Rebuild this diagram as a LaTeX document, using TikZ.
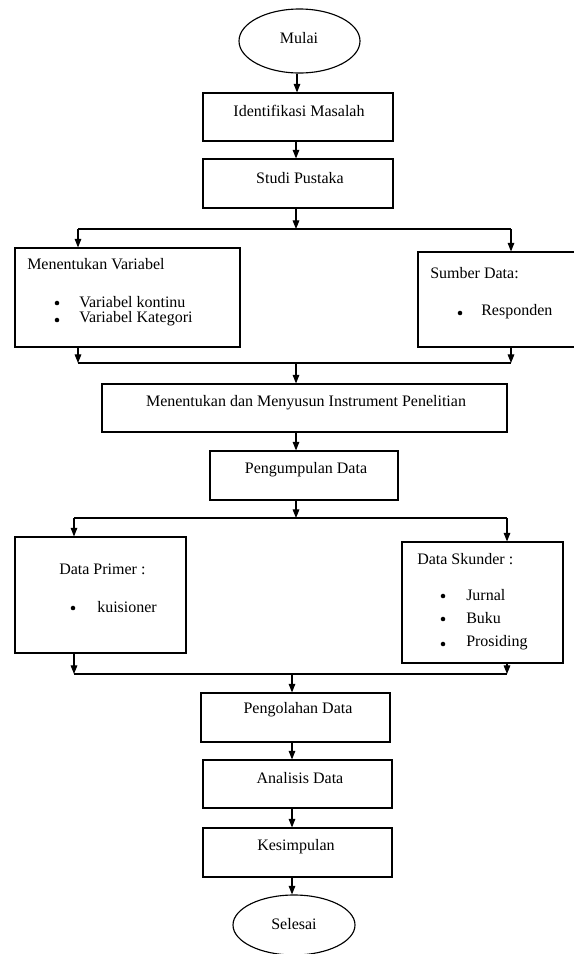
\documentclass[tikz,border=0pt]{standalone}
\usepackage{fontspec}
\setmainfont{Liberation Serif}
\usetikzlibrary{shapes.geometric,fit,arrows.meta}
\begin{document}
\begin{tikzpicture}[x=0.75pt,y=-0.75pt,
  box/.style={draw, line width=0.85pt, inner sep=0pt, rectangle},
  term/.style={draw, ellipse, line width=0.85pt, inner sep=0pt},
  txt/.style={inner sep=0pt, font=\fontsize{12}{14}\selectfont},
  bul/.style={circle, fill=black, inner sep=0pt, minimum size=3.4pt},
  arr/.style={line width=0.85pt, -{Triangle[length=6.5pt,width=5pt]}},
  ln/.style={line width=0.85pt}]
\clip (0,0) rectangle (574,954);
\fill[white] (0,0) rectangle (574,954);

% terminals
\node[term, minimum width=90.75pt, minimum height=48pt] (mulai) at (299.5,41) {};
\node[term, minimum width=91.5pt, minimum height=45pt] (selesai) at (294,925) {};
\node[txt] (tmulai) at (299,38) {Mulai};
\node[txt] (tselesai) at (294,924) {Selesai};

% boxes
\node[box, fit={(203,93) (393,141)}] (ident) {};
\node[box, fit={(203,159) (393,208)}] (studi) {};
\node[box, fit={(15,248) (240,347)}] (var) {};
\node[box, fit={(418,252) (590,347)}] (sumber) {};
\node[box, fit={(102,384) (507,432)}] (instr) {};
\node[box, fit={(210,451) (398,500)}] (kumpul) {};
\node[box, fit={(15,537) (186,653)}] (primer) {};
\node[box, fit={(402,542) (563,663)}] (skunder) {};
\node[box, fit={(201,693) (390,742)}] (olah) {};
\node[box, fit={(203,760) (392,808)}] (analisis) {};
\node[box, fit={(203,828) (392,877)}] (simpul) {};

% texts
\node[txt] (tident) at (299,111) {Identifikasi Masalah};
\node[txt] (tstudi) at (300,178) {Studi Pustaka};
\node[txt, anchor=west] (tvar) at (27,264) {Menentukan Variabel};
\node[bul] (bv1) at (57,303) {};
\node[txt, anchor=west] (tv1) at (79,302) {Variabel kontinu};
\node[bul] (bv2) at (57,320) {};
\node[txt, anchor=west] (tv2) at (79,319) {Variabel Kategori};
\node[txt, anchor=west] (tsumber) at (430,273) {Sumber Data:};
\node[bul] (bs1) at (460,313) {};
\node[txt, anchor=west] (ts1) at (481,312) {Responden};
\node[txt] (tinstr) at (306,403) {Menentukan dan Menyusun Instrument Penelitian};
\node[txt] (tkumpul) at (306,470) {Pengumpulan Data};
\node[txt, anchor=west] (tprimer) at (59,569) {Data Primer :};
\node[bul] (bp1) at (73,608) {};
\node[txt, anchor=west] (tp1) at (97,607) {kuisioner};
\node[txt, anchor=west] (tskunder) at (417,559) {Data Skunder :};
\node[bul] (bk1) at (443,596) {};
\node[txt, anchor=west] (tk1) at (466,595) {Jurnal};
\node[bul] (bk2) at (443,619) {};
\node[txt, anchor=west] (tk2) at (466,618) {Buku};
\node[bul] (bk3) at (443,644) {};
\node[txt, anchor=west] (tk3) at (466,643) {Prosiding};
\node[txt] (tolah) at (298,710) {Pengolahan Data};
\node[txt] (tanalisis) at (300,778) {Analisis Data};
\node[txt] (tsimpul) at (296,847) {Kesimpulan};

% junction coordinates
\coordinate (s1C) at (296,229);
\coordinate (s1L) at (78,229);
\coordinate (s1R) at (511,229);
\coordinate (m1L) at (78,363);
\coordinate (m1R) at (511,363);
\coordinate (m1C) at (296,363);
\coordinate (s2C) at (296,518);
\coordinate (s2L) at (74,518);
\coordinate (s2R) at (507,518);
\coordinate (m2L) at (74,674);
\coordinate (m2R) at (507,674);
\coordinate (m2C) at (292,674);
\coordinate (c1) at (297,0);
\coordinate (c2) at (292,0);

% connectors
\draw[arr] (c1 |- mulai.south) -- (c1 |- ident.north);
\draw[arr] (s1C |- ident.south) -- (s1C |- studi.north);
\draw[arr] (s1C |- studi.south) -- (s1C);
\draw[ln] (s1L) -- (s1R);
\draw[arr] (s1L) -- (s1L |- var.north);
\draw[arr] (s1R) -- (s1R |- sumber.north);
\draw[arr] (m1L |- var.south) -- (m1L);
\draw[arr] (m1R |- sumber.south) -- (m1R);
\draw[ln] (m1L) -- (m1R);
\draw[arr] (m1C) -- (m1C |- instr.north);
\draw[arr] (m1C |- instr.south) -- (m1C |- kumpul.north);
\draw[arr] (s2C |- kumpul.south) -- (s2C);
\draw[ln] (s2L) -- (s2R);
\draw[arr] (s2L) -- (s2L |- primer.north);
\draw[arr] (s2R) -- (s2R |- skunder.north);
\draw[arr] (m2L |- primer.south) -- (m2L);
\draw[arr] (m2R |- skunder.south) -- (m2R);
\draw[ln] (m2L) -- (m2R);
\draw[arr] (m2C) -- (m2C |- olah.north);
\draw[arr] (c2 |- olah.south) -- (c2 |- analisis.north);
\draw[arr] (c2 |- analisis.south) -- (c2 |- simpul.north);
\draw[arr] (c2 |- simpul.south) -- (c2 |- selesai.north);
\end{tikzpicture}
\end{document}
